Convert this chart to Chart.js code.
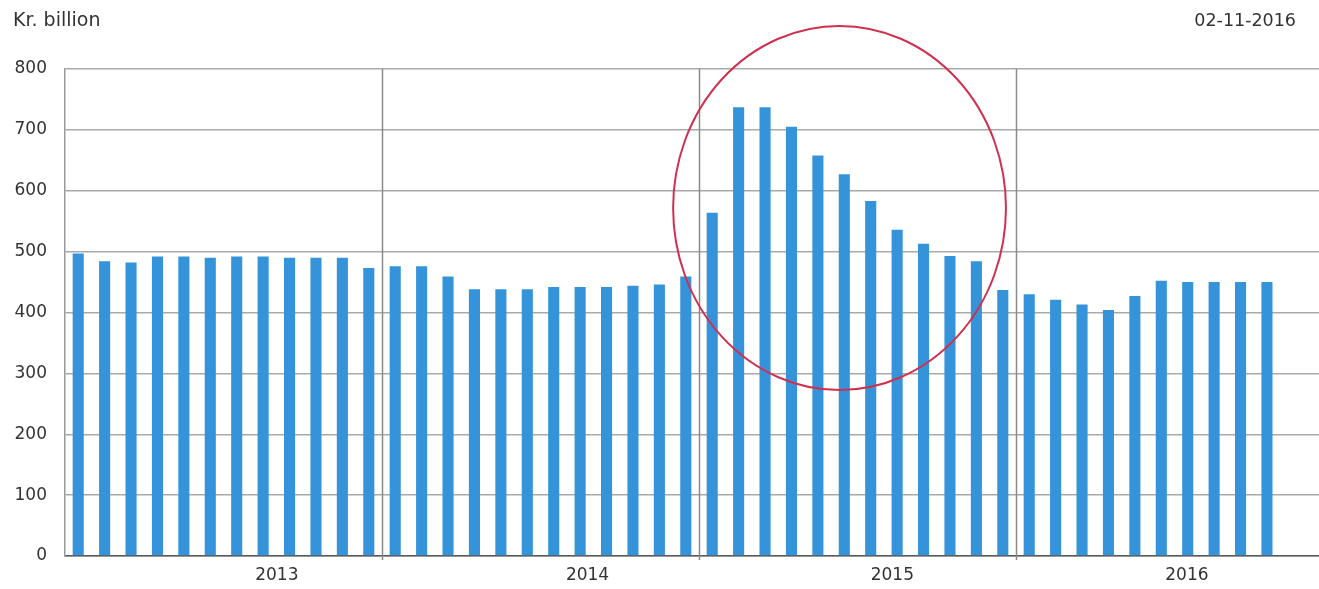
<!DOCTYPE html>
<html>
<head>
<meta charset="utf-8">
<script src="https://cdn.jsdelivr.net/npm/chart.js@4"></script>
<style>
  html, body { margin: 0; padding: 0; background: #fff; overflow: hidden; }
  #wrap { position: relative; width: 1319px; height: 589px; }
  #chart { position: absolute; left: 0; top: 0; }
  .lbl { position: absolute; font-family: "DejaVu Sans", sans-serif; color: #333; line-height: 1; white-space: nowrap; }
  #unit { left: 13px; top: 10px; font-size: 19px; }
  #date { right: 23px; top: 12px; font-size: 17.5px; }
</style>
</head>
<body>
<div id="wrap">
  <canvas id="chart" width="1319" height="589"></canvas>
  <div id="unit" class="lbl">Kr. billion</div>
  <div id="date" class="lbl">02-11-2016</div>
</div>
<script>
// ── Monthly values, Kr. billion ─────────────────────────────────────────────
const years   = ['2013', '2014', '2015', '2016'];
const vals2013 = [497, 484, 482, 492, 492, 490, 492, 492, 490, 490, 490, 473];
const vals2014 = [476, 476, 459, 438, 438, 438, 442, 442, 442, 444, 446, 459];
const vals2015 = [564, 737, 737, 705, 658, 627, 583, 536, 513, 493, 484, 437];
const vals2016 = [430, 421, 413, 404, 427, 452, 450, 450, 450, 450];
const yTicks   = [0, 100, 200, 300, 400, 500, 600, 700, 800];

const allVals = [...vals2013, ...vals2014, ...vals2015, ...vals2016];
const points  = allVals.map((v, i) => ({ x: i, y: v }));

// x positions (in month index units) for the year labels and year dividers
const yearLabelPos = [7.52, 19.28, 30.82, 41.97];
const dividerPos   = [11.5, 23.5, 35.5];

const FONT = 'DejaVu Sans';

// year dividers + red ellipse highlight
const overlayPlugin = {
  id: 'overlay',
  beforeDatasetsDraw(chart) {
    const { ctx, chartArea, scales: { x } } = chart;
    ctx.save();
    ctx.strokeStyle = '#8a8a8a';
    ctx.lineWidth = 1.5;
    dividerPos.forEach(v => {
      const px = Math.round(x.getPixelForValue(v)) + 0.5;
      ctx.beginPath();
      ctx.moveTo(px, chartArea.top);
      ctx.lineTo(px, chartArea.bottom + 4);
      ctx.stroke();
    });
    ctx.restore();
  },
  afterDatasetsDraw(chart) {
    const { ctx, scales: { x, y } } = chart;
    const cx = x.getPixelForValue(28.82);
    const cy = y.getPixelForValue(571.7);
    const rx = x.getPixelForValue(28.82 + 6.3) - cx;
    const ry = cy - y.getPixelForValue(571.7 + 299);
    ctx.save();
    ctx.strokeStyle = '#d0304f';
    ctx.lineWidth = 2;
    ctx.beginPath();
    ctx.ellipse(cx, cy, rx, ry, 0, 0, Math.PI * 2);
    ctx.stroke();
    ctx.restore();
  },
};

new Chart(document.getElementById('chart'), {
  type: 'bar',
  data: {
    datasets: [{
      data: points,
      backgroundColor: '#3594d9',
      borderWidth: 0,
      barPercentage: 0.42,
      categoryPercentage: 1,
    }],
  },
  options: {
    responsive: false,
    animation: false,
    layout: { padding: { top: 69, left: 0, right: 0, bottom: 0 } },
    plugins: { legend: { display: false }, tooltip: { enabled: false } },
    scales: {
      x: {
        type: 'linear',
        offset: false,
        bounds: 'data',
        min: -0.5, max: 46.97,
        afterFit: s => { s.height = 33; },
        afterBuildTicks: s => { s.ticks = yearLabelPos.map(v => ({ value: v })); },
        grid: { display: false, drawTicks: false },
        border: { display: true, color: '#595959', width: 1.5 },
        ticks: {
          autoSkip: false, maxRotation: 0, padding: 9,
          color: '#333', font: { family: FONT, size: 17 },
          callback: (v, i) => years[i],
        },
      },
      y: {
        min: 0, max: 800,
        afterFit: s => { s.width = 65; },
        afterBuildTicks: s => { s.ticks = yTicks.map(v => ({ value: v })); },
        grid: { color: '#a9a9a9', lineWidth: 1.5, drawTicks: false },
        border: { display: true, color: '#9a9a9a', width: 1.5 },
        ticks: { padding: 18, color: '#333', font: { family: FONT, size: 17 } },
      },
    },
  },
  plugins: [overlayPlugin],
});
</script>
</body>
</html>
